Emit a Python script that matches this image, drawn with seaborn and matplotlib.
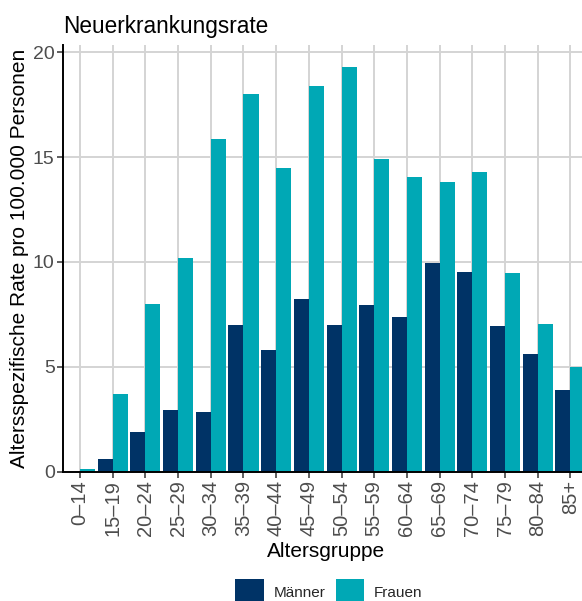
import matplotlib
matplotlib.use("Agg")
import matplotlib.pyplot as plt
from matplotlib.patches import Patch
import seaborn as sns
import pandas as pd

altersgruppen = ["0–14", "15–19", "20–24", "25–29", "30–34", "35–39", "40–44", "45–49",
                 "50–54", "55–59", "60–64", "65–69", "70–74", "75–79", "80–84", "85+"]
maenner = [0.0, 0.6, 1.9, 2.95, 2.85, 7.0, 5.8, 8.25, 7.0, 7.95, 7.35, 9.95, 9.5, 6.95, 5.6, 3.9]
frauen = [0.1, 3.7, 8.0, 10.2, 15.85, 18.0, 14.5, 18.4, 19.3, 14.9, 14.05, 13.8, 14.3, 9.45, 7.05, 5.0]
geschlechter = ["Männer", "Frauen"]
farben = {"Männer": "#003366", "Frauen": "#00A8B5"}

df = pd.DataFrame({
    "Altersgruppe": altersgruppen * 2,
    "Geschlecht": ["Männer"] * len(altersgruppen) + ["Frauen"] * len(altersgruppen),
    "Rate": maenner + frauen,
})

sns.set_theme(style="white")
plt.rcParams["font.family"] = ["Liberation Sans", "DejaVu Sans"]

fig = plt.figure(figsize=(5.82, 6.01), dpi=100)
ax = fig.add_axes([63 / 582, 129.5 / 601, 527 / 582, 426.5 / 601])

sns.barplot(data=df, x="Altersgruppe", y="Rate", hue="Geschlecht",
            hue_order=geschlechter, palette=farben, width=0.92,
            linewidth=0, saturation=1, ax=ax, legend=False, zorder=3)

ax.set_xlim(-0.52, 15.6)
ax.set_ylim(0, 20.35)
ax.set_yticks([0, 5, 10, 15, 20])
ax.set_axisbelow(True)
ax.grid(True, axis="both", color="#D4D4D4", linewidth=1.4, zorder=0)

for s in ["top", "right"]:
    ax.spines[s].set_visible(False)
for s in ["left", "bottom"]:
    ax.spines[s].set_color("black")
    ax.spines[s].set_linewidth(1.4)
    ax.spines[s].set_zorder(5)

ax.tick_params(axis="both", which="major", direction="out", length=4, width=1.1,
               color="#333333", labelcolor="#4D4D4D", labelsize=14, pad=2)
ax.tick_params(axis="x", labelrotation=90, labelsize=14.5)
ax.tick_params(axis="both", bottom=True, left=True)

ax.set_xlabel("Altersgruppe", fontsize=15, color="black", labelpad=4)
ax.set_ylabel("Altersspezifische Rate pro 100.000 Personen", fontsize=15, color="black", labelpad=3)
ax.set_title("Neuerkrankungsrate", loc="left", fontsize=16.3, color="black", pad=9, x=0.0)

handles = [Patch(facecolor=farben[g], edgecolor="none", label=g) for g in geschlechter]
fig.legend(handles=handles, loc="center", bbox_to_anchor=(329 / 582, 1 - 592 / 601),
           ncol=2, frameon=False, fontsize=11, handlelength=1.85, handleheight=2.25,
           handletextpad=0.65, columnspacing=0.7)

fig.savefig("out.png", dpi=100)
